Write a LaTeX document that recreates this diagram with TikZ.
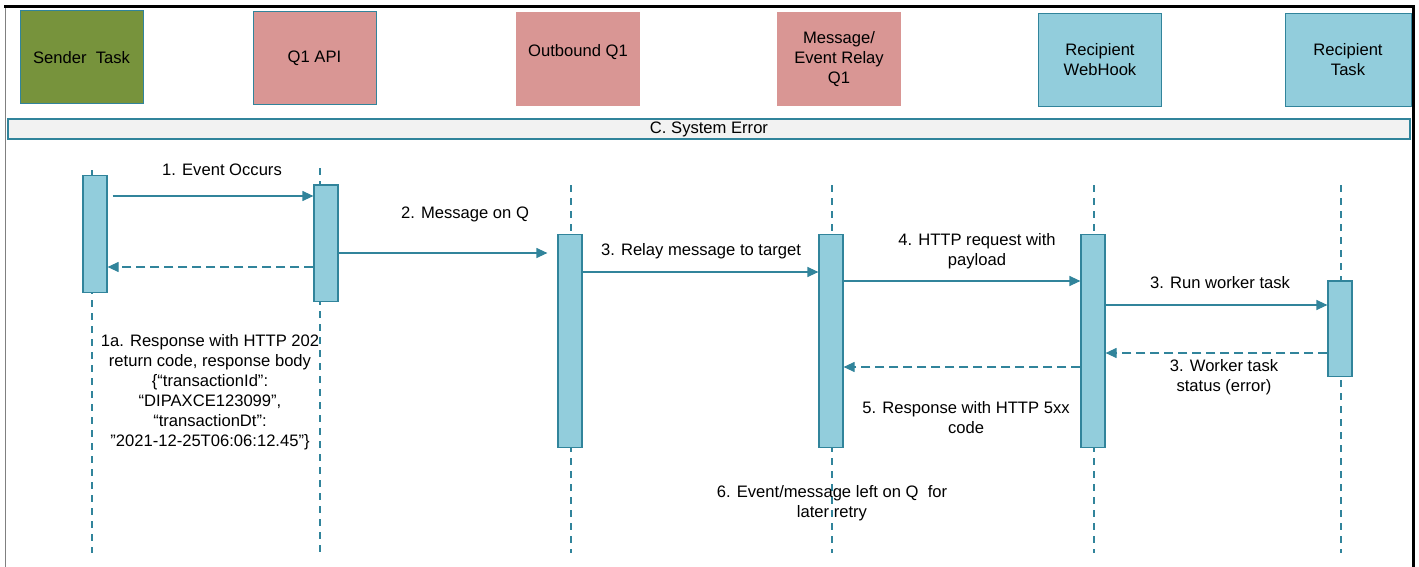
\documentclass[tikz,border=0pt]{standalone}
\usepackage{fontspec}
\setmainfont{Liberation Sans}
\usetikzlibrary{arrows.meta,positioning}

\definecolor{tealline}{HTML}{31849B}
\definecolor{grass}{HTML}{77933C}
\definecolor{rose}{HTML}{D99694}
\definecolor{sky}{HTML}{92CDDC}
\definecolor{panel}{HTML}{F2F2F2}

\begin{document}
\begin{tikzpicture}[x=0.5pt,y=-0.5pt,
  font=\fontsize{8.3}{10}\selectfont,
  head/.style={draw=tealline,line width=0.5pt,minimum width=61.5pt,minimum height=46.5pt,align=center,inner sep=0pt},
  actbar/.style={draw=tealline,fill=sky,line width=0.6pt,minimum width=12pt,inner sep=0pt},
  lifeline/.style={tealline,line width=0.6pt,dash pattern=on 3.5pt off 3pt},
  msg/.style={tealline,line width=0.6pt,-{Triangle[length=5.5pt,width=5pt]}},
  reply/.style={msg,dash pattern=on 4.5pt off 2.5pt},
  lbl/.style={align=center,inner sep=0pt}]
\useasboundingbox (0,0) rectangle (1419,567);

% Frame
\draw[gray,line width=0.5pt] (5,7) -- (5,567);
\draw[line width=1.5pt] (4,7) -- (1413,7) -- (1413,567);

% Lifeline heads
\node[head,fill=grass] (snd) at (81.5,57.5) {Sender\ \ Task};
\node[head,fill=rose] (api) at (314.5,58) {Q1 API};
\node[head,fill=rose,draw=rose] (outq) at (578,59.5) {Outbound Q1\\[-4pt]\strut};
\node[head,fill=rose,draw=rose] (relay) at (839,59.5) {Message/\\Event Relay\\Q1};
\node[head,fill=sky] (hook) at (1100,60) {Recipient\\WebHook};
\node[head,fill=sky,minimum width=63pt] (task) at (1348,60) {Recipient\\Task};

% Section bar
\node[draw=tealline,fill=panel,line width=0.6pt,minimum width=701pt,minimum height=10pt,inner sep=0pt] (sect) at (709,129) {C. System Error};

% Lifelines
\foreach \x/\t in {92/170,320/168,571/185,832/185,1094/185,1341/185}
  \draw[lifeline] (\x,\t) -- (\x,553);

% Activation bars
\node[actbar,minimum height=58.3pt] (sndbar) at (95,234) {};
\node[actbar,minimum height=58.3pt] (apibar) at (326,243.3) {};
\node[actbar,minimum height=106.7pt] (outbar) at (570,341) {};
\node[actbar,minimum height=106.7pt] (relbar) at (831,341) {};
\node[actbar,minimum height=106.7pt] (hookbar) at (1093,341) {};
\node[actbar,minimum height=47.8pt] (taskbar) at (1340,328.8) {};

% Messages
\draw[msg,shorten <=2.5pt] (sndbar.east |- 0,196) -- (apibar.west |- 0,196);
\draw[reply] (apibar.west |- 0,267) -- (sndbar.east |- 0,267);
\draw[msg,shorten >=5pt] (apibar.east |- 0,253) -- (outbar.west |- 0,253);
\draw[msg] (outbar.east |- 0,272) -- (relbar.west |- 0,272);
\draw[msg] (relbar.east |- 0,281) -- (hookbar.west |- 0,281);
\draw[msg] (hookbar.east |- 0,305) -- (taskbar.west |- 0,305);
\draw[reply] (taskbar.west |- 0,353) -- (hookbar.east |- 0,353);
\draw[reply] (hookbar.west |- 0,367) -- (relbar.east |- 0,367);

% Labels
\node[lbl] (l1) at (222,170) {1. Event Occurs};
\node[lbl] (l1a) at (210,392.5) {1a. Response with HTTP 202\\return code, response body\\\{“transactionId”:\\“DIPAXCE123099”,\\“transactionDt”:\\”2021-12-25T06:06:12.45”\}};
\node[lbl] (l2) at (465,214) {2. Message on Q};
\node[lbl] (l3) at (701,251.5) {3. Relay message to target};
\node[lbl] (l4) at (977,251.5) {4. HTTP request with\\payload};
\node[lbl] (l3run) at (1220,282.5) {3. Run worker task};
\node[lbl] (l3st) at (1224,377) {3. Worker task\\status (error)};
\node[lbl] (l5) at (966,417.5) {5. Response with HTTP 5xx\\code};
\node[lbl] (l6) at (832,503.5) {6. Event/message left on Q\ \ for\\later retry};
\end{tikzpicture}
\end{document}
